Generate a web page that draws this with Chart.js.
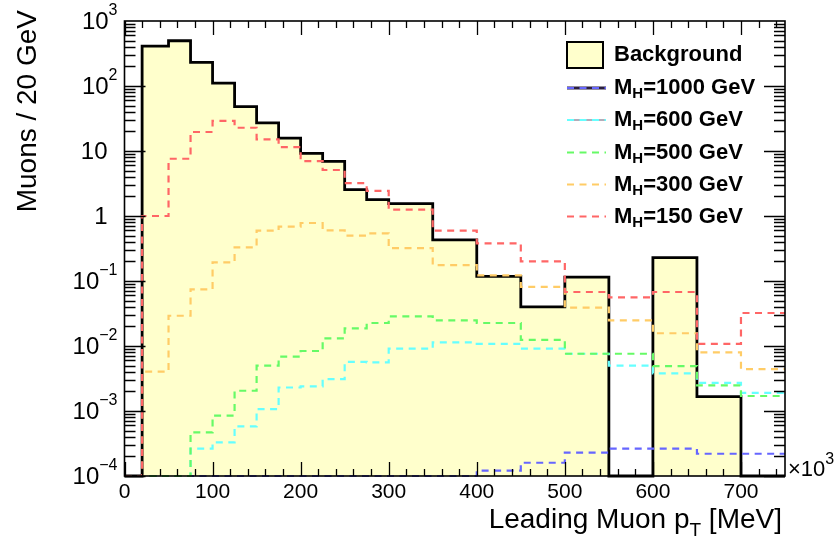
<!DOCTYPE html>
<html>
<head>
<meta charset="utf-8">
<script src="https://cdn.jsdelivr.net/npm/chart.js@4/dist/chart.umd.min.js"></script>
<style>
  html, body { margin: 0; padding: 0; background: #ffffff; }
  canvas { display: block; }
</style>
</head>
<body>
<canvas id="c" width="838" height="546"></canvas>
<script>
// Bin edges of the leading-muon pT histogram (in units of 10^3 MeV)
const binEdges = [0, 20, 50, 75, 100, 125, 150, 175, 200, 225, 250, 275, 300,
                  350, 400, 450, 500, 550, 600, 650, 700, 750];

// Bin contents, one value per bin (0 = empty bin)
const background = [0, 412, 497, 231, 111, 48, 27, 15.8, 9.2, 6.9, 2.55, 1.78,
                    1.55, 0.43, 0.118, 0.040, 0.115, 0, 0.229, 0.00166, 0];
const mh1000 = [0, 0, 0, 0, 0, 0, 0, 0, 0, 0, 0, 0,
                0, 0, 0.000121, 0.00016, 0.000229, 0.000263, 0.000263, 0.00022, 0.00022];
const mh600 = [0, 0, 0, 0.000263, 0.00033, 0.00058, 0.00107, 0.0023, 0.0024, 0.0031, 0.0057, 0.0056,
               0.0091, 0.0114, 0.0108, 0.0091, 0.0076, 0.005, 0.0038, 0.0027, 0.0019];
const mh500 = [0, 0, 0, 0.00047, 0.00085, 0.00205, 0.00498, 0.00684, 0.00837, 0.0131, 0.0187, 0.0226,
               0.0286, 0.0248, 0.0226, 0.0124, 0.0076, 0.0076, 0.0049, 0.00248, 0.0017];
const mh300 = [0, 0.00403, 0.0292, 0.0745, 0.194, 0.33, 0.594, 0.684, 0.78, 0.6, 0.5, 0.54,
               0.32, 0.176, 0.122, 0.081, 0.039, 0.0248, 0.0157, 0.008, 0.0044];
const mh150 = [0, 1.0, 7.6, 19.6, 29, 22.8, 15.1, 11.5, 7.0, 5.1, 3.2, 2.43,
               1.25, 0.594, 0.38, 0.2, 0.0677, 0.056, 0.0677, 0.0108, 0.0322];

const higgsMasses = [1000, 600, 500, 300, 150];

// Axis tick labels
const xTickLabels = [0, 100, 200, 300, 400, 500, 600, 700];
const yTickExponents = [-4, -3, -2, -1, 0, 1, 2, 3];

const X_MIN = 0, X_MAX = 750;
const Y_MIN = 1e-4, Y_MAX = 1e3;
const FONT = '"Liberation Sans", Arial, Helvetica, sans-serif';

// Turn bin contents into step points; empty bins sit on the axis floor.
// Each point sits on a bin's right edge and carries that bin's content.
function histPoints(values) {
  const floor = v => (v > 0 ? v : Y_MIN);
  const pts = [{ x: binEdges[0], y: floor(values[0]) }];
  values.forEach((v, i) => pts.push({ x: binEdges[i + 1], y: floor(v) }));
  return pts;
}

const dash = [7, 5.5];
const signalStyle = (mass, data, color, order) => ({
  label: '=' + mass + ' GeV', data: histPoints(data), borderColor: color, borderWidth: 2.2,
  borderDash: dash, stepped: 'after', fill: false, pointRadius: 0, order, clip: 3
});

const datasets = [
  {
    label: 'Background', data: histPoints(background), borderColor: '#000000',
    borderWidth: 2.8, backgroundColor: 'rgb(255,255,204)', fill: 'start',
    stepped: 'after', pointRadius: 0, order: 6, clip: 3
  },
  signalStyle(higgsMasses[0], mh1000, 'rgb(102,102,255)', 5),
  signalStyle(higgsMasses[1], mh600, 'rgb(102,255,255)', 4),
  signalStyle(higgsMasses[2], mh500, 'rgb(102,250,102)', 3),
  signalStyle(higgsMasses[3], mh300, 'rgb(255,204,102)', 2),
  signalStyle(higgsMasses[4], mh150, 'rgb(255,102,102)', 1)
];

// Draws text pieces in sequence: [{t, font, dy}]
function runWidth(ctx, parts) {
  let w = 0;
  for (const p of parts) { ctx.font = p.font; w += ctx.measureText(p.t).width; }
  return w;
}
function drawRun(ctx, parts, x, y) {
  for (const p of parts) {
    ctx.font = p.font;
    ctx.fillText(p.t, x, y + (p.dy || 0));
    x += ctx.measureText(p.t).width;
  }
}

const rootFrame = {
  id: 'rootFrame',
  afterDatasetsDraw(chart) {
    const ctx = chart.ctx, a = chart.chartArea;
    const xs = chart.scales.x, ys = chart.scales.y;
    ctx.save();
    ctx.strokeStyle = '#000';
    ctx.fillStyle = '#000';

    // ticks on all four sides, pointing inward
    ctx.lineWidth = 1.3;
    ctx.beginPath();
    for (let v = X_MIN; v < X_MAX; v += 20) {
      const px = Math.round(xs.getPixelForValue(v)) + 0.5;
      const len = (v % 100 === 0) ? 14 : 7;
      ctx.moveTo(px, a.bottom); ctx.lineTo(px, a.bottom - len);
      ctx.moveTo(px, a.top); ctx.lineTo(px, a.top + len);
    }
    for (let e = -4; e < 3; e++) {
      for (let m = 1; m <= 9; m++) {
        const py = Math.round(ys.getPixelForValue(m * Math.pow(10, e))) + 0.5;
        const len = (m === 1) ? 21 : 11;
        ctx.moveTo(a.left, py); ctx.lineTo(a.left + len, py);
        ctx.moveTo(a.right, py); ctx.lineTo(a.right - len, py);
      }
    }
    ctx.stroke();

    // frame
    ctx.lineWidth = 1.6;
    ctx.strokeRect(a.left, a.top, a.right - a.left, a.bottom - a.top);

    // x tick labels
    ctx.font = '21px ' + FONT;
    ctx.textAlign = 'center';
    ctx.textBaseline = 'top';
    for (const v of xTickLabels) {
      ctx.fillText(String(v), xs.getPixelForValue(v), a.bottom + 6);
    }

    // y tick labels (powers of ten)
    ctx.textAlign = 'left';
    ctx.textBaseline = 'middle';
    const base = '24px ' + FONT, sup = '16px ' + FONT;
    for (const e of yTickExponents) {
      const py = ys.getPixelForValue(Math.pow(10, e));
      let parts, right;
      if (e === 0) { parts = [{ t: '1', font: base }]; right = a.left - 17; }
      else if (e === 1) { parts = [{ t: '10', font: base }]; right = a.left - 17; }
      else {
        const s = e < 0 ? '\u2212' + (-e) : String(e);
        parts = [{ t: '10', font: base }, { t: s, font: sup, dy: -11 }];
        right = a.left - 7;
      }
      drawRun(ctx, parts, right - runWidth(ctx, parts), py + 1);
    }

    // x10^3 multiplier at the end of the x axis
    ctx.textBaseline = 'alphabetic';
    drawRun(ctx, [{ t: '\u00d710', font: '22px ' + FONT }, { t: '3', font: '16px ' + FONT, dy: -12 }],
            a.right + 3, a.bottom + 0);

    // axis titles
    const tf = '28px ' + FONT, tsub = '19px ' + FONT;
    const xTitle = [{ t: 'Leading Muon p', font: tf }, { t: 'T', font: tsub, dy: 8 }, { t: ' [MeV]', font: tf }];
    drawRun(ctx, xTitle, a.right - 3 - runWidth(ctx, xTitle), 528);

    ctx.save();
    ctx.translate(28, 10);
    ctx.rotate(-Math.PI / 2);
    ctx.font = tf;
    ctx.textAlign = 'right';
    ctx.textBaseline = 'middle';
    ctx.fillText('Muons / 20 GeV', 0, 0);
    ctx.restore();

    // legend
    const rowY = [55, 88, 120, 152.5, 184.5, 216.5];
    const lx0 = 567, lx1 = 606, tx = 614;
    const lf = 'bold 22px ' + FONT, lsub = 'bold 15px ' + FONT;
    ctx.textBaseline = 'middle';
    ctx.textAlign = 'left';
    chart.data.datasets.forEach((ds, i) => {
      const y = rowY[i];
      if (i === 0) {
        ctx.fillStyle = ds.backgroundColor;
        ctx.fillRect(lx0, y - 13, 36, 26);
        ctx.lineWidth = 2;
        ctx.strokeStyle = '#000';
        ctx.strokeRect(lx0, y - 13, 36, 26);
        ctx.fillStyle = '#000';
        ctx.font = lf;
        ctx.fillText(ds.label, tx, y);
        return;
      }
      if (i === 1 || i === 2) {
        ctx.setLineDash([]);
        ctx.strokeStyle = i === 1 ? '#2a1f3d' : '#6b5b75';
        ctx.lineWidth = i === 1 ? 3.2 : 1.2;
        ctx.beginPath(); ctx.moveTo(lx0, y); ctx.lineTo(lx1, y); ctx.stroke();
      }
      ctx.setLineDash(ds.borderDash);
      ctx.strokeStyle = ds.borderColor;
      ctx.lineWidth = ds.borderWidth;
      ctx.beginPath(); ctx.moveTo(lx0, y); ctx.lineTo(lx1, y); ctx.stroke();
      ctx.setLineDash([]);
      ctx.fillStyle = '#000';
      drawRun(ctx, [{ t: 'M', font: lf }, { t: 'H', font: lsub, dy: 6 }, { t: ds.label, font: lf }], tx, y);
    });
    ctx.restore();
  }
};

new Chart(document.getElementById('c').getContext('2d'), {
  type: 'line',
  data: { datasets },
  options: {
    responsive: false,
    animation: false,
    layout: { padding: { left: 124.5, top: 21, right: 53, bottom: 70 } },
    plugins: { legend: { display: false }, tooltip: { enabled: false } },
    elements: { point: { radius: 0 }, line: { tension: 0 } },
    scales: {
      x: { type: 'linear', min: X_MIN, max: X_MAX, display: false },
      y: { type: 'logarithmic', min: Y_MIN, max: Y_MAX, display: false }
    }
  },
  plugins: [rootFrame]
});
</script>
</body>
</html>
